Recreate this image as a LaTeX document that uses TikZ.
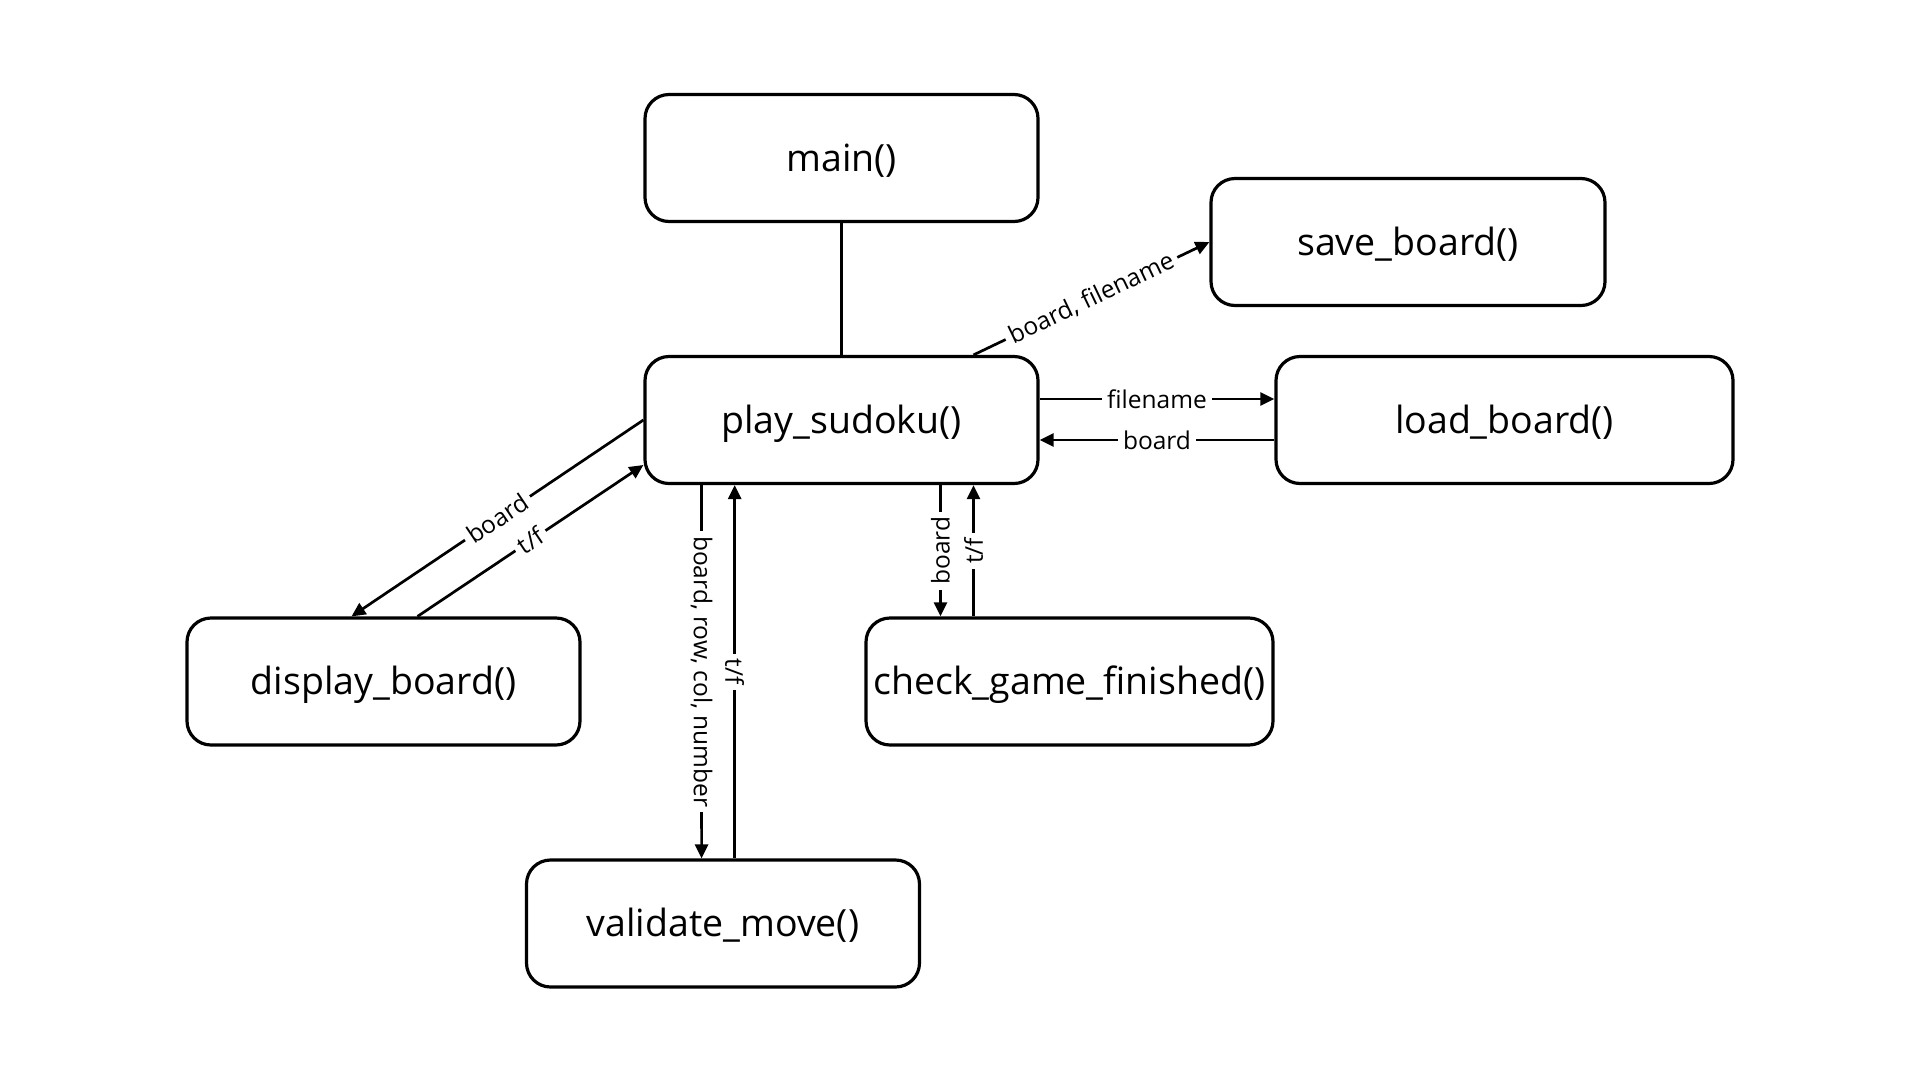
\documentclass[tikz,border=0pt]{standalone}
\usepackage{fontspec}
\setmainfont{Open Sans}
\usetikzlibrary{arrows.meta}
\begin{document}
\begin{tikzpicture}[x=1pt,y=-1pt,
  box/.style={draw, line width=3.2pt, rounded corners=24pt, minimum width=393pt, minimum height=127pt, inner sep=0pt, text height=35pt, text depth=9pt, font=\fontsize{37.5}{40}\selectfont},
  conn/.style={line width=2.7pt},
  arr/.style={conn, -{Triangle[length=14pt,width=13pt]}},
  lab/.style={fill=white, inner sep=5pt, font=\fontsize{24.5}{27}\selectfont}]
\path[use as bounding box, fill=white] (0,0) rectangle (1920,1080);

\node[box] (main) at (841.5,158) {main()};
\node[box] (play) at (841.5,420) {play\_sudoku()};
\node[box, minimum width=394pt] (save) at (1408,242) {save\_board()};
\node[box, minimum width=457pt] (load) at (1504.5,420) {load\_board()};
\node[box] (disp) at (383.5,681.5) {display\_board()};
\node[box, minimum width=407pt] (check) at (1069.5,681.5) {check\_game\_finished()};
\node[box] (valid) at (723,923.5) {validate\_move()};

\draw[conn] (main) -- (play);

\draw[arr] ([xshift=132pt]play.north) -- node[lab, midway, sloped] {board, filename} (save.west);

\draw[arr] ([yshift=21pt]play.east) -- node[lab, midway] {filename} ([yshift=21pt]load.west);
\draw[arr] ([yshift=-20pt]load.west) -- node[lab, midway] {board} ([yshift=-20pt]play.east);

\draw[arr] (play.west) -- node[lab, midway, sloped] {board} ([xshift=-32pt]disp.north);
\draw[arr] ([xshift=34pt]disp.north) -- node[lab, midway, sloped] {t/f} ([yshift=-45pt]play.west);

\draw[arr] ([xshift=99pt]play.south) -- node[lab, midway, rotate=90] {board} ([xshift=-129pt]check.north);
\draw[arr] ([xshift=-96pt]check.north) -- node[lab, midway, rotate=90] {t/f} ([xshift=132pt]play.south);

\draw[arr] ([xshift=-140pt]play.south) -- node[lab, midway, rotate=-90] {board, row, col, number} ([xshift=-21.4pt]valid.north);
\draw[arr] ([xshift=11.7pt]valid.north) -- node[lab, midway, rotate=-90] {t/f} ([xshift=-106.8pt]play.south);
\end{tikzpicture}
\end{document}
